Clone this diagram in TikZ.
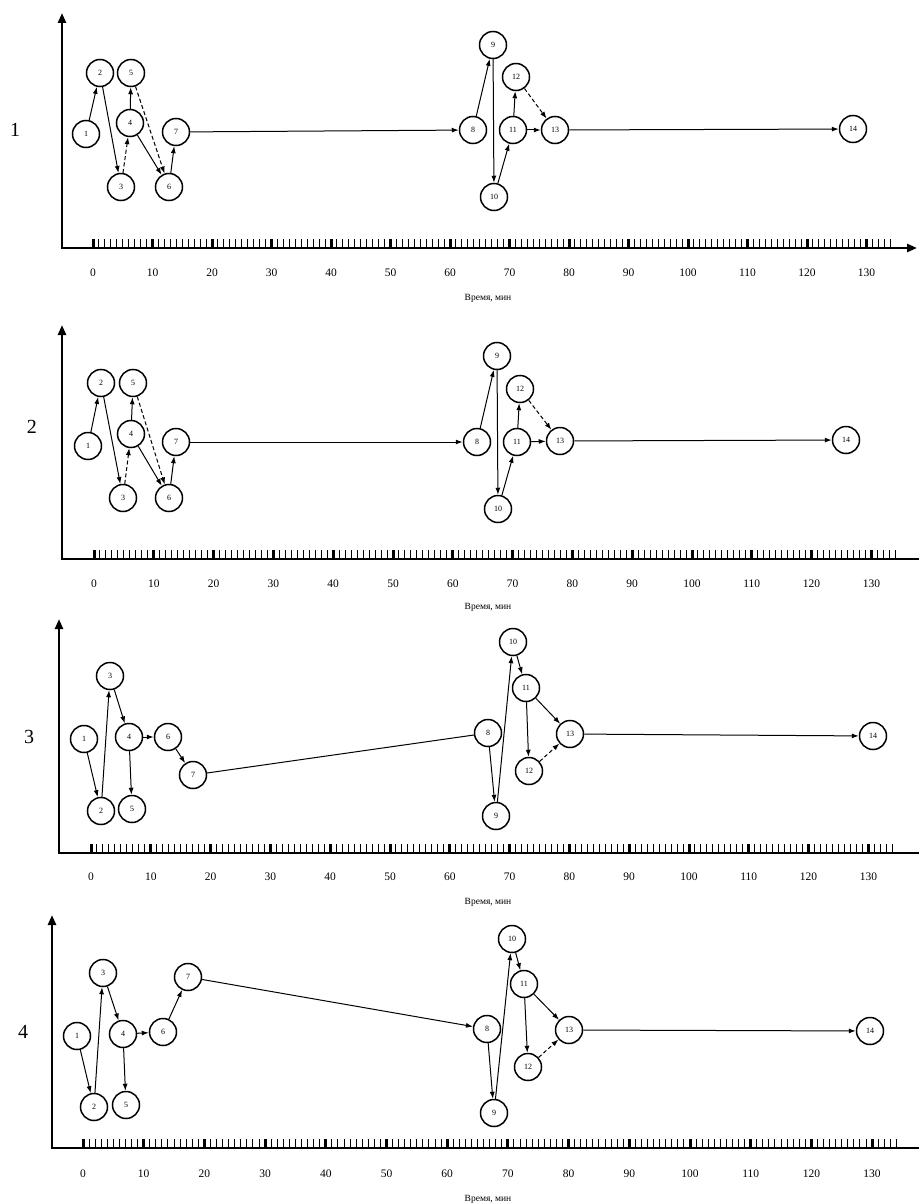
\documentclass[tikz,border=0pt]{standalone}
\usepackage{fontspec}
\setmainfont{Liberation Serif}
\usetikzlibrary{arrows.meta}

\tikzset{
  ev/.style={circle, draw, line width=1.5pt, minimum size=27pt, inner sep=0pt,
             font=\fontsize{8}{9}\selectfont},
  act/.style={line width=1pt, -{Latex[length=7pt,width=5pt]}},
  dummy/.style={act, dash pattern=on 4pt off 2.5pt},
  link/.style={line width=1pt},
  axisline/.style={line width=2.6pt},
  axisarrow/.style={-{Triangle[length=10pt,width=8pt]}},
  minortick/.style={line width=1pt},
  majortick/.style={line width=3pt},
  ticklabel/.style={font=\fontsize{11.5}{12}\selectfont},
  caption/.style={font=\fontsize{9.5}{10}\selectfont},
  panelno/.style={font=\fontsize{20}{20}\selectfont},
}

% time axes of one network:
% #1 x of vertical axis, #2 baseline y, #3 top y, #4 x of t=0,
% #5 units per minute, #6 right end, #7 label y, #8 caption y, #9 tip style
\newcommand{\timeaxes}[9]{%
  \draw[axisline, axisarrow] (#1,#2) -- (#1,#3);
  \draw[axisline, line cap=rect, #9] (#1,#2) -- (#6,#2);
  \foreach \k in {0,...,134} \draw[minortick] ({#4+\k*#5},#2) -- ++(0,-9);
  \foreach \k in {0,10,...,130} {
    \draw[majortick] ({#4+\k*#5},#2) -- ++(0,-9);
    \node[ticklabel] at ({#4+\k*#5},#7) {\k};
  }
  \node[caption] at (488,#8) {Время, мин};
}

\begin{document}
\begin{tikzpicture}[x=1pt, y=-1pt]
\useasboundingbox (0,0) rectangle (918,1204);

% ---------- network 1 ----------
\node[panelno] (n1) at (15,130) {1};
\timeaxes{62}{248}{13}{93}{5.95}{917}{273}{298}{axisarrow}
\node[ev] (a1) at (86,134) {1};
\node[ev] (a2) at (100,73) {2};
\node[ev] (a3) at (121,187) {3};
\node[ev] (a4) at (130,123) {4};
\node[ev] (a5) at (131,73) {5};
\node[ev] (a6) at (169,187) {6};
\node[ev] (a7) at (176,132) {7};
\node[ev] (a8) at (473,130) {8};
\node[ev] (a9) at (493,45) {9};
\node[ev] (a10) at (494,197) {10};
\node[ev] (a11) at (513,130) {11};
\node[ev] (a12) at (516,77) {12};
\node[ev] (a13) at (555,130) {13};
\node[ev] (a14) at (853,129) {14};
\draw[act] (a1) -- (a2);
\draw[act] (a2) -- (a3);
\draw[dummy] (a3) -- (a4);
\draw[act] (a4) -- (a5);
\draw[dummy] (a5) -- (a6);
\draw[act] (a4) -- (a6);
\draw[act] (a6) -- (a7);
\draw[act] (a7) -- (a8);
\draw[act] (a8) -- (a9);
\draw[act] (a9) -- (a10);
\draw[act] (a10) -- (a11);
\draw[act] (a11) -- (a12);
\draw[dummy] (a12) -- (a13);
\draw[act] (a11) -- (a13);
\draw[act] (a13) -- (a14);

% ---------- network 2 ----------
\node[panelno] (n2) at (32,427) {2};
\timeaxes{62}{559}{325}{94}{5.98}{918}{584}{607}{-}
\node[ev] (b1) at (88,446) {1};
\node[ev] (b2) at (101,383) {2};
\node[ev] (b3) at (123,498) {3};
\node[ev] (b4) at (131,434) {4};
\node[ev] (b5) at (133,383) {5};
\node[ev] (b6) at (169,498) {6};
\node[ev] (b7) at (176,442) {7};
\node[ev] (b8) at (477,442) {8};
\node[ev] (b9) at (497,356) {9};
\node[ev] (b10) at (498,509) {10};
\node[ev] (b11) at (517,442) {11};
\node[ev] (b12) at (520,389) {12};
\node[ev] (b13) at (560,441) {13};
\node[ev] (b14) at (846,440) {14};
\draw[act] (b1) -- (b2);
\draw[act] (b2) -- (b3);
\draw[dummy] (b3) -- (b4);
\draw[act] (b4) -- (b5);
\draw[dummy] (b5) -- (b6);
\draw[act] (b4) -- (b6);
\draw[act] (b6) -- (b7);
\draw[act] (b7) -- (b8);
\draw[act] (b8) -- (b9);
\draw[act] (b9) -- (b10);
\draw[act] (b10) -- (b11);
\draw[act] (b11) -- (b12);
\draw[dummy] (b12) -- (b13);
\draw[act] (b11) -- (b13);
\draw[act] (b13) -- (b14);

% ---------- network 3 ----------
\node[panelno] (n3) at (29,737) {3};
\timeaxes{59}{853}{619}{91}{5.98}{918}{877}{902}{-}
\node[ev] (c1) at (84,739) {1};
\node[ev] (c2) at (101,811) {2};
\node[ev] (c3) at (110,676) {3};
\node[ev] (c4) at (129,737) {4};
\node[ev] (c5) at (132,809) {5};
\node[ev] (c6) at (168,737) {6};
\node[ev] (c7) at (193,775) {7};
\node[ev] (c8) at (488,733) {8};
\node[ev] (c9) at (496,816) {9};
\node[ev] (c10) at (513,642) {10};
\node[ev] (c11) at (526,688) {11};
\node[ev] (c12) at (529,771) {12};
\node[ev] (c13) at (570,734) {13};
\node[ev] (c14) at (873,736) {14};
\draw[act] (c1) -- (c2);
\draw[act] (c2) -- (c3);
\draw[act] (c3) -- (c4);
\draw[act] (c4) -- (c5);
\draw[act] (c4) -- (c6);
\draw[act] (c6) -- (c7);
\draw[link] (c7) -- (c8);
\draw[act] (c8) -- (c9);
\draw[act] (c9) -- (c10);
\draw[act] (c10) -- (c11);
\draw[act] (c11) -- (c12);
\draw[act] (c11) -- (c13);
\draw[dummy] (c12) -- (c13);
\draw[act] (c13) -- (c14);

% ---------- network 4 ----------
\node[panelno] (n4) at (23,1032) {4};
\timeaxes{52}{1148}{915}{83}{6.07}{918}{1174}{1199}{-}
\node[ev] (d1) at (77,1036) {1};
\node[ev] (d2) at (94,1107) {2};
\node[ev] (d3) at (103,973) {3};
\node[ev] (d4) at (123,1034) {4};
\node[ev] (d5) at (126,1105) {5};
\node[ev] (d6) at (163,1032) {6};
\node[ev] (d7) at (188,977) {7};
\node[ev] (d8) at (487,1029) {8};
\node[ev] (d9) at (494,1113) {9};
\node[ev] (d10) at (512,939) {10};
\node[ev] (d11) at (524,984) {11};
\node[ev] (d12) at (528,1067) {12};
\node[ev] (d13) at (569,1030) {13};
\node[ev] (d14) at (870,1031) {14};
\draw[act] (d1) -- (d2);
\draw[act] (d2) -- (d3);
\draw[act] (d3) -- (d4);
\draw[act] (d4) -- (d5);
\draw[act] (d4) -- (d6);
\draw[act] (d6) -- (d7);
\draw[act] (d7) -- (d8);
\draw[act] (d8) -- (d9);
\draw[act] (d9) -- (d10);
\draw[act] (d10) -- (d11);
\draw[act] (d11) -- (d12);
\draw[act] (d11) -- (d13);
\draw[dummy] (d12) -- (d13);
\draw[act] (d13) -- (d14);
\end{tikzpicture}
\end{document}
